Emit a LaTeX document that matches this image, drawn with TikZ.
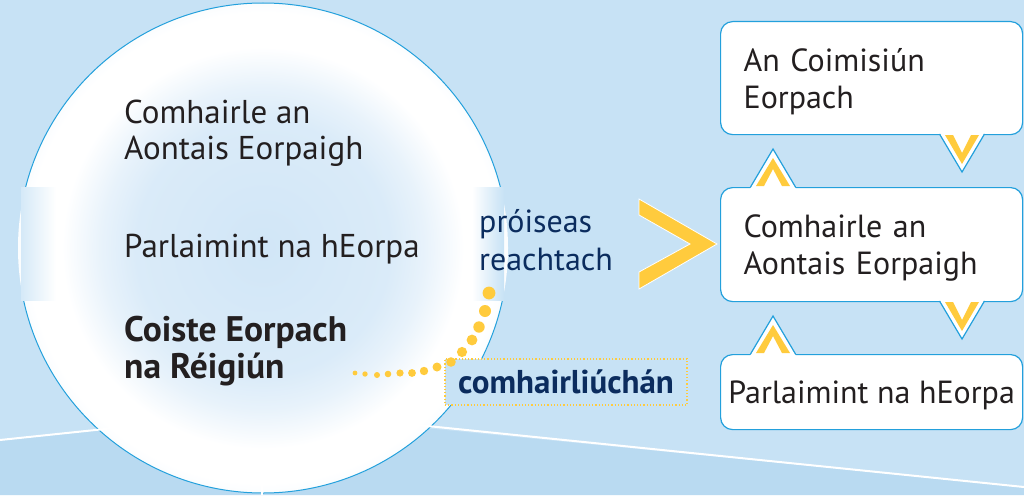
\documentclass[tikz,border=0pt]{standalone}
\usepackage{fontspec}
\setmainfont{PT Sans}
\definecolor{bg}{HTML}{C7E2F5}
\definecolor{floorblue}{HTML}{B9DAF1}
\definecolor{bubin}{HTML}{D1E6F7}
\definecolor{edgeblue}{HTML}{23A0DC}
\definecolor{yel}{HTML}{FFCB3D}
\definecolor{navy}{HTML}{0B2C5E}
\definecolor{ink}{HTML}{231F20}
% circle edge corresponds to 25bp
\pgfdeclareradialshading{bubble}{\pgfpoint{0bp}{0bp}}{color(0bp)=(bubin); color(13bp)=(bubin!80!white); color(16.5bp)=(bubin!50!white); color(20.5bp)=(white); color(24bp)=(white); color(25bp)=(white!92!bg); color(50bp)=(white!92!bg)}
\tikzset{
  bubtext/.style={anchor=base west, align=left, text=ink, inner sep=0pt, font=\fontsize{33}{36}\selectfont},
  boxnode/.style={draw=edgeblue, line width=1.2pt, fill=white, rounded corners=12pt, anchor=north west, inner sep=0pt, text=ink, font=\fontsize{32}{37}\selectfont, minimum width=302pt},
  navytext/.style={text=navy, inner sep=0pt, font=\fontsize{32}{38}\selectfont},
  downnotch/.pic={
    \fill[white] (-23,-2) -- (0,38) -- (23,-2) -- cycle;
    \draw[edgeblue, line width=1.2pt] (-22.5,0) -- (0,38) -- (22.5,0);
    \fill[yel] (-17,1) -- (0,30) -- (17,1) -- (9,1) -- (0,19) -- (-9,1) -- cycle;
  },
  upnotch/.pic={
    \fill[white] (-23,2) -- (0,-38) -- (23,2) -- cycle;
    \draw[edgeblue, line width=1.2pt] (-22.5,0) -- (0,-38) -- (22.5,0);
    \fill[yel] (-17,-1) -- (0,-29) -- (17,-1) -- (9,-1) -- (0,-18) -- (-9,-1) -- cycle;
  }
}
\newcommand{\tallstrut}{\rule{0pt}{30pt}}
\begin{document}
\begin{tikzpicture}[x=1pt,y=-1pt]
\useasboundingbox (0,0) rectangle (1024,495);
% background and floor
\fill[bg] (0,0) rectangle (1024,495);
\fill[floorblue] (0,440) -- (262,412) -- (1024,487) -- (1024,495) -- (0,495) -- cycle;
% bubble
\shade[shading=bubble] (263,248) circle (245pt);
\begin{scope}
  \clip (0,0) rectangle (1024,187) (0,300) rectangle (1024,495);
  \draw[edgeblue, line width=1pt] (263,248) circle (245pt);
\end{scope}
% band edges
\shade[left color=bg!75!white, right color=white] (21,187) rectangle (56,300);
\shade[left color=white, right color=bg] (472,187) rectangle (504,300);
% floor lines
\draw[white, line width=2pt] (0,440) -- (124,427);
\draw[white, line width=2pt] (398,423) -- (1024,487);
\draw[white, line width=2pt] (262,472) -- (262,495);
% circle texts (base = last line)
\node[bubtext] (c1) at (124,159) {Comhairle an\\Aontais Eorpaigh};
\node[bubtext] (c2) at (124,257) {Parlaimint na hEorpa};
\node[bubtext, font=\fontsize{35.5}{37}\selectfont\bfseries] (c3) at (124,378) {Coiste Eorpach\\na Réigiún};
% legislative process
\node[navytext, anchor=base west, align=left] (proc) at (479,270) {próiseas\\reachtach};
% consultation
\node[draw=yel, fill=bg, dash pattern=on 1.2pt off 2pt, line width=1.4pt, minimum width=242pt, minimum height=46pt, text=navy, inner sep=0pt, font=\fontsize{33}{38}\selectfont\bfseries] (cons) at (566,382) {comhairliúchán};
% dotted connector
\foreach \x/\y/\r in {355/373/2.4, 365/374/2.7, 377/375/3.0, 388/374/3.3, 400/373/3.6, 412/373/3.9, 424/371/4.2, 437/367/4.5, 451/362/4.8, 462/352/5.1, 472/340/5.4, 479/327/5.7, 485/311/6.0, 489/293/6.4}
  \fill[yel] (\x,\y) circle (\r pt);
% big chevron
\filldraw[fill=yel, draw=white, line width=0.8pt] (639,199) -- (717,244) -- (639,289) -- (639,272) -- (690,244) -- (639,215) -- cycle;
% boxes
\node[boxnode, minimum height=113pt, text width=256pt, align=left] (b1) at (720,21) {\tallstrut An Coimisiún\\Eorpach};
\node[boxnode, minimum height=114pt, text width=256pt, align=left] (b2) at (720,187) {\tallstrut Comhairle an\\Aontais Eorpaigh};
\node[boxnode, minimum height=75pt] (b3) at (720,354) {\tallstrut Parlaimint na hEorpa};
% notches
\pic at (962,134) {downnotch};
\pic at (773,187) {upnotch};
\pic at (962,301) {downnotch};
\pic at (773,354) {upnotch};
\end{tikzpicture}
\end{document}
